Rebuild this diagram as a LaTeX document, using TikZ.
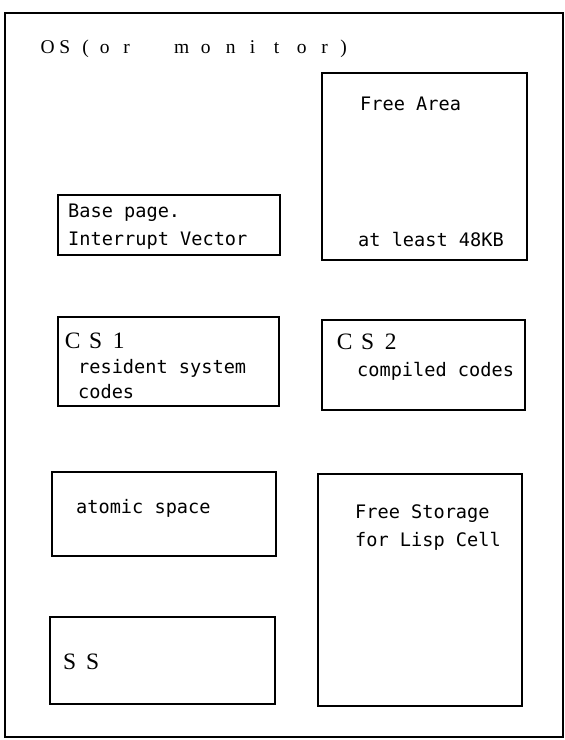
\documentclass[tikz,border=0pt]{standalone}
\usepackage{fontspec}
\setmainfont{Liberation Serif}
\newfontfamily\monof{DejaVu Sans Mono}
\newcommand\fwc[2][21pt]{\makebox[#1][c]{#2}}
\newcommand\pch[2]{\rlap{\hspace*{#1pt}\makebox[0pt][c]{#2}}}
\begin{document}
\begin{tikzpicture}[x=1pt,y=-1pt,
  box/.style={draw, line width=1.3pt, rectangle, anchor=north west, inner sep=0pt, outer sep=0pt},
  txt/.style={anchor=base west, inner sep=0pt, font=\monof\fontsize{18.6pt}{20pt}\selectfont},
  big/.style={anchor=base west, inner sep=0pt, font=\fontsize{23.5pt}{26pt}\selectfont},
  title/.style={anchor=base west, inner sep=0pt, font=\fontsize{19.5pt}{22pt}\selectfont}]
\useasboundingbox (0,0) rectangle (565,740);
% outer frame
\node[box, line width=1.2pt, minimum width=558pt, minimum height=724pt] (frame) at (5,13) {};
\node[title] (os) at (0,53) {\pch{47}{O}\pch{64}{S}\pch{85}{(}\pch{104}{o}\pch{126}{r}\pch{181}{m}\pch{205}{o}\pch{230}{n}\pch{252}{i}\pch{276}{t}\pch{301}{o}\pch{324}{r}\pch{343}{)}};
% boxes
\node[box, minimum width=205pt, minimum height=187pt] (freearea) at (322,73) {};
\node[box, minimum width=222pt, minimum height=60pt] (base) at (58,195) {};
\node[box, minimum width=221pt, minimum height=89pt] (cs1) at (58,317) {};
\node[box, minimum width=203pt, minimum height=90pt] (cs2) at (322,320) {};
\node[box, minimum width=224pt, minimum height=84pt] (atomic) at (52,472) {};
\node[box, minimum width=225pt, minimum height=87pt] (ss) at (50,617) {};
\node[box, minimum width=204pt, minimum height=232pt] (freestore) at (318,474) {};
% texts
\node[txt] (fa1) at (360,110) {Free Area};
\node[txt] (fa2) at (358,246) {at least 48KB};
\node[txt] (b1) at (68,217) {Base page.};
\node[txt] (b2) at (68,245) {Interrupt Vector};
\node[big] (c1t) at (61,348) {\fwc[23pt]{C}\fwc[23pt]{S}\fwc[23pt]{1}};
\node[txt] (c1a) at (78,373) {resident system};
\node[txt] (c1b) at (78,398) {codes};
\node[big] (c2t) at (333,349) {\fwc[23pt]{C}\fwc[23pt]{S}\fwc[23pt]{2}};
\node[txt] (c2a) at (357,376) {compiled codes};
\node[txt] (at1) at (76,513) {atomic space};
\node[big] (sst) at (58,669) {\fwc[23pt]{S}\fwc[23pt]{S}};
\node[txt] (fs1) at (355,518) {Free Storage};
\node[txt] (fs2) at (355,546) {for Lisp Cell};
\end{tikzpicture}
\end{document}
